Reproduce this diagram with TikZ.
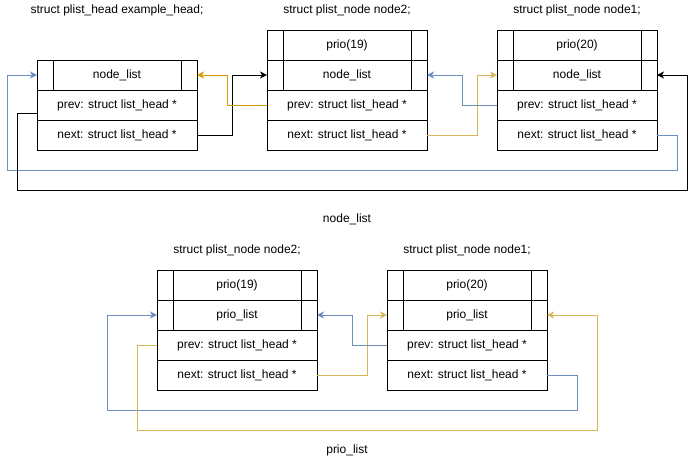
\documentclass[tikz,border=0pt]{standalone}
\usepackage{fontspec}
\setmainfont{Liberation Sans}
\usetikzlibrary{arrows.meta, positioning}
\definecolor{linkblue}{HTML}{6C8EBF}
\definecolor{linkorange}{HTML}{D79B00}
\definecolor{linkyellow}{HTML}{D6B656}
\tikzset{
  fieldbox/.style={draw, rectangle, minimum width=160pt, minimum height=30pt, inner sep=0pt, outer sep=0pt},
  barbox/.style={fieldbox, path picture={
      \draw ([xshift=16pt]path picture bounding box.north west) -- ([xshift=16pt]path picture bounding box.south west);
      \draw ([xshift=-16pt]path picture bounding box.north east) -- ([xshift=-16pt]path picture bounding box.south east);}},
  structname/.style={inner sep=0pt},
  link/.style={-{Stealth[length=7pt, width=7pt, inset=2pt]}},
  bluelink/.style={link, draw=linkblue},
  orangelink/.style={link, draw=linkorange},
  yellowlink/.style={link, draw=linkyellow},
  blacklink/.style={link, draw=black}
}

\begin{document}
\begin{tikzpicture}[x=1pt, y=-1pt, line width=1pt, font=\fontsize{12pt}{14pt}\selectfont]
      \useasboundingbox (0,0) rectangle (696,461);

      \node[barbox] at (347,45) (n2-prio) {prio(19)};
      \node[barbox, below=0pt of n2-prio] (n2-list) {node\_list};
      \node[fieldbox, below=0pt of n2-list] (n2-prev) {prev: struct list\_head *};
      \node[fieldbox, below=0pt of n2-prev] (n2-next) {next: struct list\_head *};

      \node[barbox, right=70pt of n2-prio] (n1-prio) {prio(20)};
      \node[barbox, below=0pt of n1-prio] (n1-list) {node\_list};
      \node[fieldbox, below=0pt of n1-list] (n1-prev) {prev: struct list\_head *};
      \node[fieldbox, below=0pt of n1-prev] (n1-next) {next: struct list\_head *};

      \node[barbox, left=70pt of n2-list] (head-list) {node\_list};
      \node[fieldbox, below=0pt of head-list] (head-prev) {prev: struct list\_head *};
      \node[fieldbox, below=0pt of head-prev] (head-next) {next: struct list\_head *};

      \node[structname] at (head-list.north |- 0,10) (head-name) {struct plist\_head example\_head;};
      \node[structname] at (n2-prio.north |- 0,10) (n2-name) {struct plist\_node node2;};
      \node[structname] at (n1-prio.north |- 0,10) (n1-name) {struct plist\_node node1;};

      \draw[blacklink] (head-next.east) -- ++(35,0) |- (n2-list.west);
      \draw[orangelink] (n2-prev.west) -- ++(-40,0) |- (head-list.east);
      \draw[yellowlink] (n2-next.east) -- ++(50,0) |- (n1-list.west);
      \draw[bluelink] (n1-prev.west) -- ++(-35,0) |- (n2-list.east);
      \draw[bluelink] (n1-next.east) -- ++(20,0) -- ++(0,35) -| ([xshift=-30pt]head-list.west) -- (head-list.west);
      \draw[blacklink] ([yshift=-8pt]head-prev.west) -- ++(-20,0) -- ++(0,77) -| ([xshift=30pt]n1-list.east) -- (n1-list.east);

      \node[structname] at (347,219) (top-caption) {node\_list};

      \node[barbox] at (237,285) (b-n2-prio) {prio(19)};
      \node[barbox, below=0pt of b-n2-prio] (b-n2-list) {prio\_list};
      \node[fieldbox, below=0pt of b-n2-list] (b-n2-prev) {prev: struct list\_head *};
      \node[fieldbox, below=0pt of b-n2-prev] (b-n2-next) {next: struct list\_head *};

      \node[barbox, right=70pt of b-n2-prio] (b-n1-prio) {prio(20)};
      \node[barbox, below=0pt of b-n1-prio] (b-n1-list) {prio\_list};
      \node[fieldbox, below=0pt of b-n1-list] (b-n1-prev) {prev: struct list\_head *};
      \node[fieldbox, below=0pt of b-n1-prev] (b-n1-next) {next: struct list\_head *};

      \node[structname] at (b-n2-prio.north |- 0,250) (b-n2-name) {struct plist\_node node2;};
      \node[structname] at (b-n1-prio.north |- 0,250) (b-n1-name) {struct plist\_node node1;};

      \draw[yellowlink] (b-n2-next.east) -- ++(50,0) |- (b-n1-list.west);
      \draw[bluelink] (b-n1-prev.west) -- ++(-35,0) |- (b-n2-list.east);
      \draw[bluelink] (b-n1-next.east) -- ++(30,0) -- ++(0,35) -| ([xshift=-50pt]b-n2-list.west) -- (b-n2-list.west);
      \draw[yellowlink] (b-n2-prev.west) -- ++(-20,0) -- ++(0,85) -| ([xshift=50pt]b-n1-list.east) -- (b-n1-list.east);

      \node[structname] at (347,450) (bottom-caption) {prio\_list};
\end{tikzpicture}
\end{document}
